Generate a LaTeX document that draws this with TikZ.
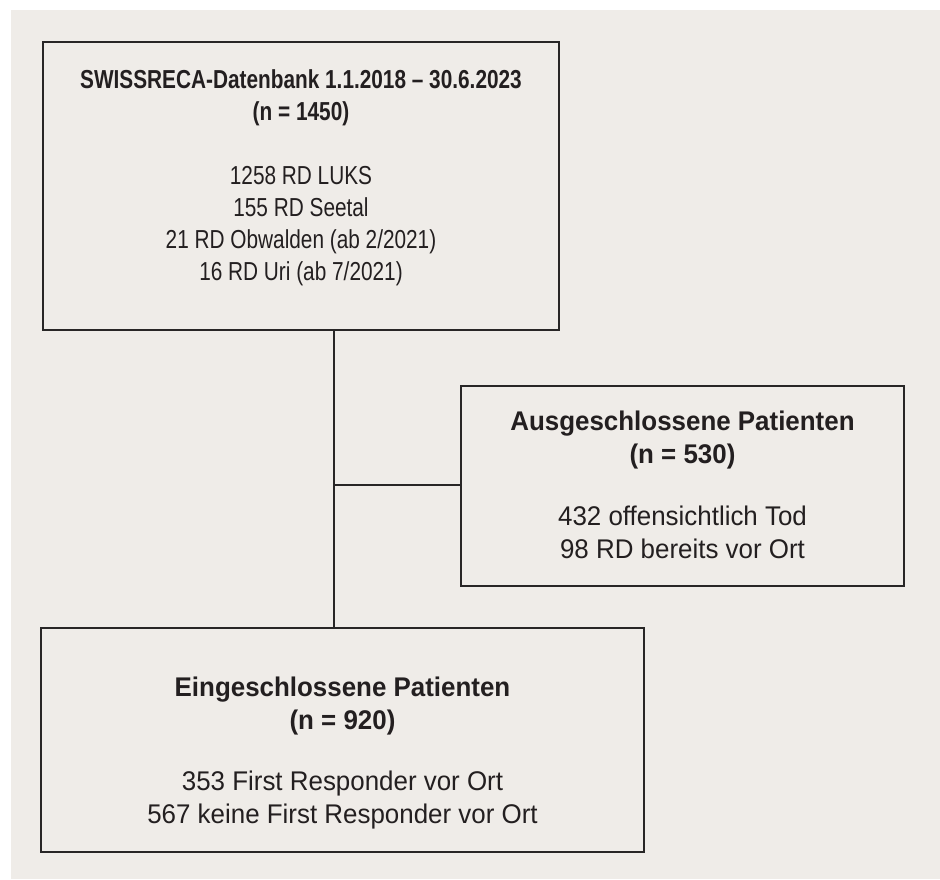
\documentclass[tikz,border=0pt]{standalone}
\usepackage{fontspec}
\setmainfont{Liberation Sans}[FakeStretch=0.96]
\newfontfamily\topfont{Liberation Sans}[FakeStretch=0.80]
\definecolor{bgc}{RGB}{239,236,232}
\definecolor{linec}{RGB}{40,38,38}
\definecolor{txtc}{RGB}{35,31,32}
\tikzset{
  boxnode/.style={draw=linec, line width=1.6pt, rectangle, inner sep=0pt, outer sep=0pt},
  txtnode/.style={align=center, inner sep=0pt, text=txtc, font=\fontsize{25}{32}\selectfont},
  conn/.style={draw=linec, line width=1.2pt}
}
\begin{document}
\begin{tikzpicture}[x=1pt,y=-1pt]
\useasboundingbox (0,0) rectangle (940,879);
\fill[white] (0,0) rectangle (940,879);
\fill[bgc] (11,10) rectangle (940,879);

\node[boxnode, minimum width=516pt, minimum height=288pt] (top) at (301,186) {};
\node[boxnode, minimum width=443pt, minimum height=200pt] (excl) at (682.5,486) {};
\node[boxnode, minimum width=603pt, minimum height=224pt] (incl) at (342.5,740) {};

\node[txtnode, font=\topfont\fontsize{26}{32}\selectfont] (toptxt) at (301,177.5) {\textbf{SWISSRECA-Datenbank 1.1.2018 – 30.6.2023}\\ \textbf{(n = 1450)}\\[32pt]
1258 RD LUKS\\ 155 RD Seetal\\ 21 RD Obwalden (ab 2/2021)\\ 16 RD Uri (ab 7/2021)};

\node[txtnode, font=\fontsize{27}{32.5}\selectfont] (excltxt) at (682.5,485) {\textbf{Ausgeschlossene Patienten}\\ \textbf{(n = 530)}\\[30pt]
432 offensichtlich Tod\\ 98 RD bereits vor Ort};

\node[txtnode, font=\fontsize{27}{32.5}\selectfont] (incltxt) at (342.5,753) {\textbf{Eingeschlossene Patienten}\\ \textbf{(n = 920)}\\[29pt]
353 First Responder vor Ort\\ 567 keine First Responder vor Ort};

\coordinate (j) at (334,485);
\draw[conn] (top.south -| j) -- (incl.north -| j);
\draw[conn] (j) -- (excl.west |- j);
\end{tikzpicture}
\end{document}
